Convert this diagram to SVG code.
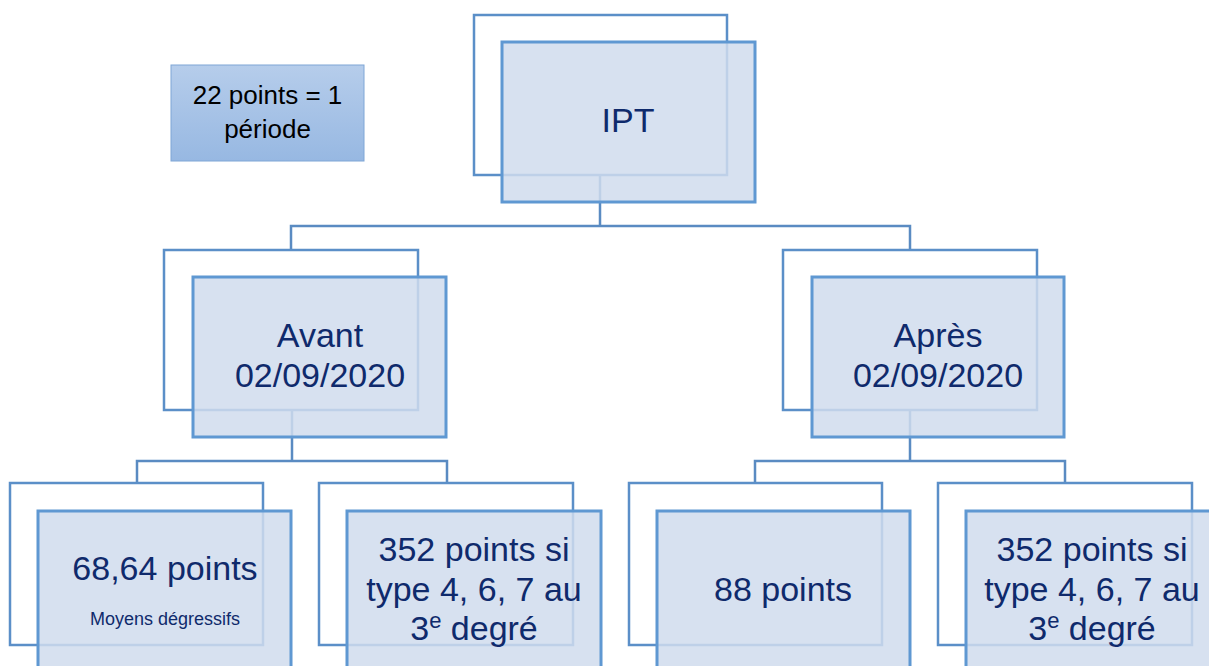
<svg xmlns="http://www.w3.org/2000/svg" width="1209" height="666" viewBox="0 0 1209 666">
<defs>
<linearGradient id="lg" x1="0" y1="0" x2="0" y2="1">
<stop offset="0" stop-color="#b6cdeb"/>
<stop offset="1" stop-color="#97b8e2"/>
</linearGradient>
</defs>
<style>
.conn{fill:none;stroke:#5a8bc2;stroke-width:2.5}
.back{fill:#ffffff;stroke:#5b8fc8;stroke-width:2.5}
.front{fill:#d0dced;fill-opacity:0.85;stroke:#5f98d2;stroke-width:3}
.t{font-family:"Liberation Sans",Arial,sans-serif;font-size:34px;fill:#0f2a6c;text-anchor:middle}
.s{font-size:18px}
.leg{font-family:"Liberation Sans",Arial,sans-serif;font-size:26px;fill:#000;text-anchor:middle}
</style>
<rect width="1209" height="666" fill="#ffffff"/>
<g id="connectors">
<path class="conn" d="M600,175 V226 M291,250 V226 H910 V250"/>
<path class="conn" d="M292,410 V461 M137,483 V461 H447 V483"/>
<path class="conn" d="M910,410 V461 M755,483 V461 H1065 V483"/>
</g>
<g id="legend">
<rect x="171" y="65" width="193" height="96" fill="url(#lg)" stroke="#7ea6d6" stroke-width="1"/>
<text class="leg" x="267.5" y="104">22 points = 1</text>
<text class="leg" x="267.5" y="138">période</text>
</g>
<g id="ipt">
<rect class="back" x="474" y="15" width="253" height="160"/>
<rect class="front" x="502" y="42" width="253" height="160"/>
<text class="t" x="628" y="132">IPT</text>
</g>
<g id="avant">
<rect class="back" x="164" y="250" width="254" height="160"/>
<rect class="front" x="193" y="277" width="253" height="160"/>
<text class="t" x="320" y="347">Avant</text>
<text class="t" x="320" y="387">02/09/2020</text>
</g>
<g id="apres">
<rect class="back" x="783" y="250" width="254" height="160"/>
<rect class="front" x="812" y="277" width="252" height="160"/>
<text class="t" x="938" y="347">Après</text>
<text class="t" x="938" y="387">02/09/2020</text>
</g>
<g id="n6864">
<rect class="back" x="10" y="483" width="253" height="162"/>
<rect class="front" x="38" y="511" width="253" height="162"/>
<text class="t" x="165" y="580">68,64 points</text>
<text class="t s" x="165" y="625">Moyens dégressifs</text>
</g>
<g id="n352a">
<rect class="back" x="319" y="483" width="254" height="162"/>
<rect class="front" x="347" y="511" width="254" height="162"/>
<text class="t" x="474" y="561">352 points si</text>
<text class="t" x="474" y="601">type 4, 6, 7 au</text>
<text class="t" x="474" y="640">3<tspan font-size="22" dy="-12">e</tspan><tspan dy="12"> degré</tspan></text>
</g>
<g id="n88">
<rect class="back" x="629" y="483" width="253" height="162"/>
<rect class="front" x="657" y="511" width="253" height="162"/>
<text class="t" x="783" y="601">88 points</text>
</g>
<g id="n352b">
<rect class="back" x="938" y="483" width="254" height="162"/>
<rect class="front" x="966" y="511" width="254" height="162"/>
<text class="t" x="1092" y="561">352 points si</text>
<text class="t" x="1092" y="601">type 4, 6, 7 au</text>
<text class="t" x="1092" y="640">3<tspan font-size="22" dy="-12">e</tspan><tspan dy="12"> degré</tspan></text>
</g>
</svg>
